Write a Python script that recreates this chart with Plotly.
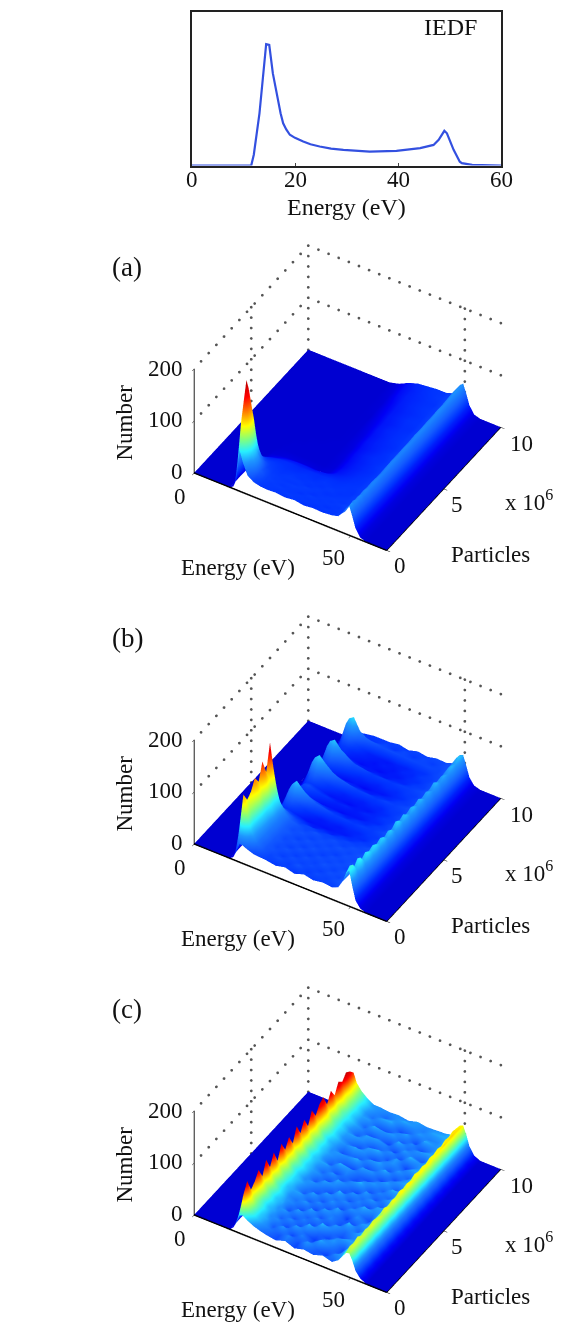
import numpy as np
import plotly.graph_objects as go

# --- IEDF line ---
iedf_energy = [0,11.5,12,13.1,14.4,15,15.7,16.2,16.7,17.2,17.7,18.3,19,20,21.6,23,24.8,27,29.4,34.5,39.7,44.3,46.9,47.4,47.9,49,49.5,50.8,52,52.4,54.4,60]
iedf_value = [0,0,7,34,79,78.5,60,51,43,34,27.5,23.5,20,18,15.6,13.8,12.4,11,10.2,9.1,9.5,11.3,13.4,15,16.7,22.6,21,10.2,2.5,1.5,0.4,0]
iedf_ticks = [0,20,40,60]

# --- surfaces: columns are the energies, zero outside them ---
energy_cols = [0,10.5,11.5,12.5,13.5,14.5,15.5,17,19,21,23,26,29,32,35,38,41,44,46,47.5,48.5,49.5,50.5,51.5,53,55,61.5]

particles_a = [0,.2,.4,.6,.8,1,1.2,1.5,1.8,2.2,2.6,3,3.5,4,4.5,5,5.5,6,6.5,7,7.5,8,8.5,9,9.5,10]
number_a = [
[0,4,20,78,58,36,28,25,24,25,23,25,22,24,23,25,28,40,50,56,38,18,4],
[0,10,75,125,105,52,30,26,25,24,26,24,25,23,25,24,27,36,46,58,40,18,4],
[0,14,120,170,150,70,34,27,25,26,24,25,24,25,23,25,26,38,48,52,38,18,4],
[0,18,140,199,160,72,36,27,26,24,25,23,26,24,25,24,27,37,50,54,38,18,4],
[0,14,125,178,145,66,33,27,25,25,26,25,23,25,24,26,28,38,47,51,37,18,4],
[0,10,95,140,115,52,31,26,25,24,24,26,24,24,25,24,27,36,48,54,38,18,4],
[0,8,60,90,75,42,28,25,24,25,25,23,25,23,24,25,26,37,46,50,37,18,4],
[0,4,22,48,40,30,26,24,23,24,23,24,23,25,23,24,27,38,48,52,38,18,4],
[0,2,10,26,26,24,24,23,22,22,23,22,24,23,24,23,26,36,46,50,37,18,4],
[0,1,5,14,16,18,20,21,21,20,21,21,22,22,23,24,26,37,47,51,38,18,4],
[0,0,2,5,7,9,12,14,15,15,14,16,18,20,22,23,26,36,46,50,37,18,4],
[0,0,0,2,2,3,4,4,4,4,3,5,14,18,21,23,25,35,45,49,37,18,4],
[0,0,0,0,1,1,1,1,1,1,1,3,12,17,20,22,25,36,46,50,37,18,4],
[0,0,0,0,0,1,1,1,1,1,1,3,12,17,20,23,25,37,47,51,37,18,4],
[0,0,0,0,0,0,0,1,1,1,1,4,13,18,21,22,25,36,46,50,37,18,4],
[0,0,0,0,0,0,0,0,0,1,1,4,13,17,20,23,26,38,47,52,38,18,4],
[0,0,0,0,0,0,0,0,0,0,1,5,14,18,20,22,25,37,46,50,37,18,4],
[0,0,0,0,0,0,0,0,0,0,1,5,14,18,21,23,26,38,48,51,38,18,4],
[0,0,0,0,0,0,0,0,0,0,1,6,15,19,21,23,26,37,47,52,38,18,4],
[0,0,0,0,0,0,0,0,0,0,1,7,15,18,21,22,26,38,48,51,38,18,4],
[0,0,0,0,0,0,0,0,0,0,1,8,16,19,22,23,26,38,47,52,38,18,4],
[0,0,0,0,0,0,0,0,0,0,2,9,16,19,21,23,27,39,49,53,38,18,4],
[0,0,0,0,0,0,0,0,0,0,2,10,17,20,22,24,26,38,48,52,38,18,4],
[0,0,0,0,0,0,0,0,0,0,3,12,18,20,22,23,27,40,50,54,39,18,4],
[0,0,0,0,0,0,0,0,0,0,4,13,18,21,23,25,28,41,51,57,40,18,4],
[0,0,0,0,0,0,0,0,0,0,5,14,20,22,24,24,28,40,50,55,38,18,4],
]

particles_b = [i/3 for i in range(31)]
number_b = [
[0,5,18,35,34,30,26,25,24,21,25,20,26,22,25,23,28,44,62,68,40,16,4],
[0,14,70,122,98,58,38,30,25,28,23,29,22,27,24,28,30,48,68,72,42,17,4],
[0,12,62,104,90,58,38,30,29,23,28,24,27,23,28,25,30,42,55,56,39,17,4],
[0,13,66,112,96,60,40,31,26,29,23,28,24,29,24,29,30,46,66,70,41,17,4],
[0,15,72,130,108,62,40,31,29,24,29,23,28,25,28,25,31,42,54,55,38,17,4],
[0,13,66,115,102,62,41,32,26,29,24,29,23,28,25,29,30,45,62,66,40,17,4],
[0,16,78,146,120,68,42,32,30,24,29,25,28,23,28,26,31,44,56,58,40,17,4],
[0,14,70,118,106,66,42,32,27,29,24,28,25,29,25,29,30,44,60,64,39,17,4],
[0,18,90,167,125,70,44,33,30,25,29,25,28,24,28,26,31,43,54,56,39,17,4],
[0,8,34,62,58,44,34,28,24,25,22,24,23,25,24,27,29,44,58,62,39,17,4],
[0,4,16,28,30,28,24,21,19,15,18,16,20,19,23,23,28,40,50,52,37,17,4],
[0,3,10,18,20,20,17,15,12,13,12,14,14,18,18,24,27,42,56,60,38,16,4],
[0,4,14,26,34,34,26,20,18,14,16,14,17,17,21,22,28,40,48,50,37,17,4],
[0,6,22,38,50,60,48,38,31,28,23,23,21,23,22,26,29,43,58,62,38,17,4],
[0,4,14,24,30,34,30,26,23,18,19,16,19,18,22,23,28,42,50,52,37,17,4],
[0,3,10,16,18,18,16,14,12,13,11,13,13,17,18,24,27,43,56,58,37,16,4],
[0,3,12,20,26,28,24,21,20,16,17,14,17,17,21,22,28,40,48,50,37,17,4],
[0,3,11,18,22,22,19,16,13,13,11,14,13,17,19,24,27,42,54,58,37,17,4],
[0,4,14,24,32,36,28,22,20,16,17,15,18,17,22,23,28,40,49,50,36,16,4],
[0,6,24,42,54,62,50,40,33,29,24,24,21,24,23,26,28,41,54,56,37,16,4],
[0,4,15,25,30,32,28,24,21,17,17,15,18,18,22,23,27,38,47,48,36,16,4],
[0,3,10,16,18,18,16,13,11,13,10,13,13,17,19,24,26,40,52,54,36,16,4],
[0,4,14,24,32,36,28,24,21,17,18,16,19,18,22,23,27,38,46,48,35,16,4],
[0,6,24,42,54,60,46,38,29,27,22,23,21,23,23,26,28,41,54,56,37,16,4],
[0,4,14,22,28,28,24,20,18,14,16,14,17,17,22,23,27,38,47,48,35,16,4],
[0,3,11,16,18,18,15,13,11,13,11,14,14,18,19,24,27,40,50,54,36,16,4],
[0,3,11,18,22,22,18,16,15,12,15,13,17,17,22,23,27,39,47,49,36,16,4],
[0,4,14,26,34,36,26,20,16,15,13,16,16,19,20,25,27,42,52,56,37,16,4],
[0,7,26,46,58,64,42,34,31,27,27,26,26,25,26,25,29,41,50,52,37,16,4],
[0,4,14,24,28,28,22,20,21,25,21,26,22,26,23,27,29,44,54,60,38,16,4],
[0,3,9,14,16,18,20,22,22,22,25,21,26,23,27,26,30,44,52,54,36,16,4],
]

particles_c = [i/3 for i in range(31)]
number_c = [
[0,6,18,34,36,30,24,20,17,14,20,13,18,15,21,16,24,36,44,46,34,17,6],
[0,10,36,66,50,40,31,25,21,15,23,14,26,17,12,24,26,38,50,50,38,19,7],
[0,14,50,84,56,43,31,27,16,26,13,22,15,28,20,15,28,37,48,52,36,19,6],
[0,10,34,60,50,41,33,24,24,13,27,18,12,21,26,14,26,40,52,49,38,20,7],
[0,11,38,68,52,40,30,27,17,24,14,29,19,13,23,27,27,38,46,51,37,19,6],
[0,14,48,82,55,42,33,25,26,15,22,12,30,21,14,21,25,39,50,48,38,20,7],
[0,10,35,62,50,41,31,28,14,27,17,24,13,26,19,24,28,37,48,53,36,19,6],
[0,15,52,86,57,44,34,26,23,13,28,15,23,14,30,17,26,40,51,50,39,20,7],
[0,11,37,64,51,40,32,24,20,26,12,27,21,17,13,26,27,38,49,52,37,19,6],
[0,14,50,84,56,43,30,27,27,16,24,14,28,12,24,19,25,39,46,49,38,20,7],
[0,10,35,60,50,41,33,25,16,28,15,25,13,25,21,14,28,41,52,53,36,19,6],
[0,15,52,85,56,44,32,28,22,14,27,19,24,17,29,23,26,38,48,50,39,20,7],
[0,11,38,66,52,40,31,24,26,21,13,30,15,23,12,27,27,40,51,54,37,19,6],
[0,14,49,82,55,43,34,26,15,27,23,14,26,19,26,16,25,39,49,51,39,20,7],
[0,10,35,62,50,41,32,27,24,13,28,21,12,27,15,24,28,41,53,55,37,19,6],
[0,15,52,87,57,44,33,25,18,26,15,24,29,14,23,18,26,38,50,52,39,20,7],
[0,11,38,66,52,40,31,28,27,14,22,13,23,26,17,29,27,40,52,56,38,19,6],
[0,14,50,84,56,43,34,24,16,29,26,18,14,22,27,15,26,39,49,53,39,20,7],
[0,10,36,64,51,41,32,27,23,15,13,27,25,13,22,26,28,42,54,54,38,19,6],
[0,15,52,86,56,44,33,25,26,24,29,14,19,29,14,23,27,39,51,55,40,20,7],
[0,11,38,68,52,40,30,26,15,19,17,26,27,15,26,17,26,41,53,54,38,19,6],
[0,14,48,82,55,43,34,28,24,28,24,12,22,25,19,27,28,40,50,56,40,20,7],
[0,15,52,88,57,44,32,25,20,13,26,29,15,27,13,22,27,42,54,53,39,19,6],
[0,11,37,66,51,41,33,27,27,24,14,19,25,14,29,25,26,40,52,56,40,20,7],
[0,14,50,84,56,43,31,24,16,27,27,23,13,26,21,15,28,42,55,55,39,19,6],
[0,11,38,68,52,41,34,28,24,14,19,13,29,19,25,27,27,41,52,58,41,20,7],
[0,15,52,86,57,45,32,26,18,29,25,26,16,24,14,22,28,43,56,56,40,20,6],
[0,13,46,78,55,44,34,27,26,16,15,22,27,13,28,25,27,41,54,59,41,20,7],
[0,15,53,88,58,45,33,25,20,27,28,14,19,26,22,24,29,43,57,57,40,20,6],
[0,14,48,82,57,44,35,28,24,19,24,28,25,22,27,28,28,42,55,57,41,20,7],
[0,12,42,72,55,43,33,26,26,24,25,22,27,24,25,26,29,41,53,55,40,20,6],
]

tick_energy = [0, 50]
tick_particles = [0, 5, 10]
tick_number = [0, 100, 200]
panel_names = ["(a)", "(b)", "(c)"]
panel_cmax = [195, 170, 88]

E_MAX, P_MAX, Z_MAX = 61.5, 10, 200
E_LABEL = 61.2   # anchor of the labels on the right-hand edge
W, H = 565, 1324
FONT = "Liberation Serif"

JET = [[0,"rgb(0,0,200)"],[.06,"rgb(0,0,245)"],[.125,"rgb(0,50,255)"],[.2,"rgb(20,95,255)"],[.3,"rgb(30,150,255)"],[.4,"rgb(40,240,255)"],
       [.5,"rgb(128,255,128)"],[.625,"rgb(255,255,0)"],[.875,"rgb(255,0,0)"],[1,"rgb(190,0,0)"]]

EYE_D = 1.42
eye_dir = (.392, -.642, .659)
CX, CY, HW, HH = 347.5, 397.5, 217.5, 160
PANEL_DY = 371
ASPECT = dict(x=1.41, y=1.368, z=.866)
NO_HL = dict(highlight=False, show=False)

def dots(fig, scene, a, b, n):
    a, b = np.array(a, float), np.array(b, float)
    t = np.linspace(0, 1, n)
    pts = a[None, :] + (b - a)[None, :] * t[:, None]
    fig.add_trace(go.Scatter3d(x=pts[:,0], y=pts[:,1], z=pts[:,2], mode="markers",
        marker=dict(size=1.6, color="#555555", line=dict(width=0)), hoverinfo="skip", showlegend=False, scene=scene))

fig = go.Figure()
fig.add_trace(go.Scatter(x=iedf_energy, y=iedf_value, mode="lines", line=dict(color="#3350e0", width=2.2),
                         hoverinfo="skip", showlegend=False))
annotations = [
    dict(text="IEDF", x=450, y=27, showarrow=False, font=dict(family=FONT, size=24, color="#111")),
    dict(text="Energy (eV)", x=346, y=207, showarrow=False, font=dict(family=FONT, size=24, color="#111")),
]
for a in annotations:
    a.update(xref="paper", yref="paper", x=a["x"]/W, y=1-a["y"]/H, xanchor="center", yanchor="middle")
for t in iedf_ticks:
    annotations.append(dict(text=str(t), x=t, xref="x", y=1-179/H, yref="paper", showarrow=False,
                            xanchor="center", yanchor="middle", font=dict(family=FONT, size=23, color="#111")))

layout = dict(width=W, height=H, margin=dict(l=0, r=0, t=0, b=0, autoexpand=False), paper_bgcolor="white", plot_bgcolor="white",
    xaxis=dict(domain=[192/W, 501/W], range=[0,60], tickvals=iedf_ticks, ticks="inside", ticklen=3, mirror=True,
               showline=True, linecolor="#222", linewidth=1.5, showgrid=False, zeroline=False, showticklabels=False),
    yaxis=dict(domain=[1-165.5/H, 1-12/H], range=[0,100], showticklabels=False, ticks="", mirror=True,
               showline=True, linecolor="#222", linewidth=1.5, showgrid=False, zeroline=False),
)

panels = [(particles_a, number_a), (particles_b, number_b), (particles_c, number_c)]
for i, (parts, rows) in enumerate(panels):
    scene = "scene" if i == 0 else f"scene{i+1}"
    dy = i * PANEL_DY
    # a hair above the floor, so the flat part does not z-fight with the floor level
    z = np.maximum(np.array([[0,0] + r + [0,0] for r in rows], float), 0.4)
    fig.add_trace(go.Surface(x=energy_cols, y=parts, z=z, colorscale=JET, cmin=-panel_cmax[i]*.012, cmax=panel_cmax[i], showscale=False,
        hoverinfo="skip", scene=scene, contours=dict(x=NO_HL, y=NO_HL, z=NO_HL),
        lighting=dict(ambient=1, diffuse=0, specular=0, fresnel=0, roughness=1)))
    fig.add_trace(go.Scatter3d(x=[0, E_MAX], y=[0, 0], z=[0, 0], mode="lines", line=dict(color="black", width=3),
                               hoverinfo="skip", showlegend=False, scene=scene))
    for zt in tick_number[1:]:
        dots(fig, scene, (0, 0.6, zt), (0, P_MAX, zt), 15)
        dots(fig, scene, (0, P_MAX, zt), (E_MAX, P_MAX, zt), 20)
    dots(fig, scene, (0, P_MAX, 0), (0, P_MAX, Z_MAX), 11)
    dots(fig, scene, (0, 5, 0), (0, 5, Z_MAX), 11)
    dots(fig, scene, (tick_energy[1], P_MAX, 0), (tick_energy[1], P_MAX, Z_MAX), 11)

    tf = dict(family=FONT, size=23, color="#111")
    ann = []
    def add(text, x, y, z_, xs, ys, **kw):
        ann.append(dict(text=text, x=x, y=y, z=z_, xshift=xs, yshift=ys, showarrow=False, font=tf, **kw))
    add(str(tick_energy[0]), tick_energy[0], 0, 0, -14, -24)
    add(str(tick_energy[1]), tick_energy[1], 0, 0, -17, -22)
    add(str(tick_particles[0]), E_LABEL, .02, 0, 14, -16)
    add(str(tick_particles[1]), E_LABEL, tick_particles[1], 0, 14, -17)
    add(str(tick_particles[2]), E_LABEL, 9.98, 0, 22, -17)
    add(str(tick_number[0]), 0, 0, tick_number[0], -17, 1)
    add(str(tick_number[1]), 0, 0, tick_number[1], -29, 1)
    add(str(tick_number[2]), 0, 0, tick_number[2], -29, 0)
    add("Particles", E_LABEL, 5, 0, 48, -67)
    add("Energy (eV)", 31, 0, 0, -53, -56)
    add("Number", 0, 0, 100, -70, -2, textangle=-90)
    add("x 10<sup>6</sup>", E_LABEL, 7.5, 0, 58, -43)

    ax = dict(showgrid=False, zeroline=False, showbackground=False, showspikes=False, showticklabels=False,
              showline=True, linecolor="black", linewidth=2, ticks="outside", ticklen=4, tickcolor="black", title=dict(text=""))
    layout[scene] = dict(
        domain=dict(x=[(CX-HW)/W, (CX+HW)/W], y=[1-(CY+dy+HH)/H, 1-(CY+dy-HH)/H]),
        aspectmode="manual", aspectratio=ASPECT,
        camera=dict(eye=dict(x=eye_dir[0]*EYE_D, y=eye_dir[1]*EYE_D, z=eye_dir[2]*EYE_D),
                    up=dict(x=0,y=0,z=1), center=dict(x=0,y=0,z=0), projection=dict(type="orthographic")),
        xaxis=dict(ax, range=[0,E_MAX], tickvals=tick_energy),
        yaxis=dict(ax, range=[0,P_MAX], tickvals=tick_particles),
        zaxis=dict(ax, range=[0,Z_MAX], tickvals=tick_number),
        hovermode=False,
        annotations=ann,
    )
    annotations.append(dict(text=panel_names[i], xref="paper", yref="paper", x=127/W, y=1-(267+dy)/H, showarrow=False,
                            xanchor="center", yanchor="middle", font=dict(family=FONT, size=27, color="#111")))

layout["annotations"] = annotations
fig.update_layout(**layout)
fig.write_html("out.html", config=dict(displayModeBar=False), post_script="document.body.style.margin='0';")
